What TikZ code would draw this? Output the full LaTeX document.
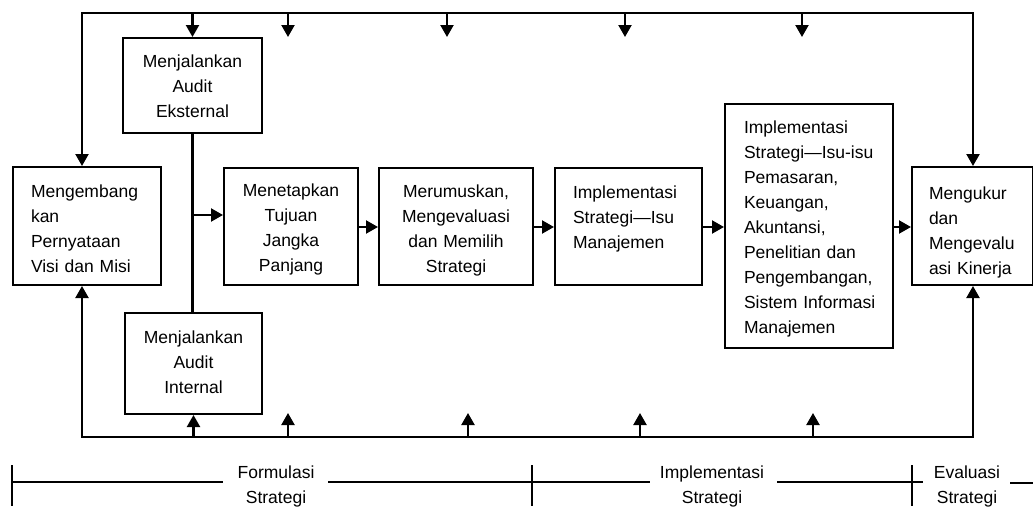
\documentclass[tikz,border=0pt]{standalone}
\usepackage{fontspec}
\setmainfont{Liberation Sans}
\usetikzlibrary{arrows.meta,calc}

\begin{document}
\begin{tikzpicture}[
  x=1pt, y=-1pt,
  txt/.style={font=\fontsize{17.5}{25}\selectfont,
    execute at begin node={\hyphenpenalty=10000 \exhyphenpenalty=10000 }},
  box/.style={txt, draw, line width=2pt, anchor=north west, inner ysep=0pt},
  lbox/.style={box, align=left, inner xsep=18pt},
  cbox/.style={box, align=center, inner xsep=8pt},
  tip/.tip={Triangle[width=13pt,length=12pt]},
  conn/.style={line width=2.2pt},
  arr/.style={conn, -tip},
  twoarr/.style={conn, tip-tip},
  phase/.style={line width=2.5pt},
  tick/.style={line width=1.4pt},
  plabel/.style={txt, anchor=base, align=center, text width=120pt, inner sep=0pt}
]
\useasboundingbox (0,0) rectangle (1033,506);

% process boxes
\node[lbox, text width=112pt, text height=30pt, text depth=88pt] (M) at (12,166)
  {Mengembang\\kan\\Pernyataan\\Visi dan Misi};
\node[cbox, text width=123pt, text height=29pt, text depth=66pt] (E) at (122,37)
  {Menjalankan\\Audit\\Eksternal};
\node[cbox, text width=121pt, text height=30pt, text depth=71pt] (N) at (124,312)
  {Menjalankan\\Audit\\Internal};
\node[cbox, text width=118pt, text height=28pt, text depth=89pt] (T) at (223,167)
  {Menetapkan\\Tujuan\\Jangka\\Panjang};
\node[cbox, text width=138pt, text height=29pt, text depth=88pt] (F) at (378,167)
  {Merumuskan,\\Mengevaluasi\\dan Memilih\\Strategi};
\node[lbox, text width=111pt, text height=30pt, text depth=87pt] (I) at (554,167)
  {Implementasi\\Strategi—Isu\\Manajemen};
\node[lbox, inner xsep=19pt, text width=130pt, text height=29pt, text depth=215pt] (B) at (724,103)
  {Implementasi\\Strategi—Isu-isu\\Pemasaran,\\Keuangan,\\Akuntansi,\\\mbox{Penelitian dan}\\Pengembangan,\\\mbox{Sistem Informasi}\\Manajemen};
\node[lbox, inner xsep=17pt, text width=87pt, text height=32pt, text depth=86pt] (K) at (911,166)
  {Mengukur\\dan\\Mengevalu\\\mbox{asi Kinerja}};

% feedback buses
\coordinate (tl) at (82,13);
\coordinate (tr) at (973,13);
\coordinate (bl) at (82,437);
\coordinate (br) at (973,437);
\draw[twoarr] (tl |- M.north) -- (tl) -- (tr) -- (tr |- K.north);
\draw[twoarr] (bl |- M.south) -- (bl) -- (br) -- (br |- K.south);
\draw[arr] (E.north |- tl) -- (E.north);
\draw[arr] (N.south |- bl) -- (N.south);
\foreach \x [count=\i] in {288,447,625,802} {
  \coordinate (dn\i) at (\x,37);
  \draw[arr] (dn\i |- tl) -- (dn\i);
}
\foreach \x [count=\i] in {288,468,640,813} {
  \coordinate (up\i) at (\x,413);
  \draw[arr] (up\i |- bl) -- (up\i);
}

% audits feed the long-term objectives
\draw[conn] (E.south) -- (E.south |- N.north);
\coordinate (j) at (E.south |- 0,215);
\draw[arr] (j) -- (j -| T.west);

% main flow
\coordinate (r) at (0,227);
\draw[arr] (T.east |- r) -- (F.west |- r);
\draw[arr] (F.east |- r) -- (I.west |- r);
\draw[arr] (I.east |- r) -- (B.west |- r);
\draw[arr] (B.east |- r) -- (K.west |- r);

% phase scale
\coordinate (s0) at (12,482);
\coordinate (s1) at (223,482);
\coordinate (s2) at (328,482);
\coordinate (s3) at (650,482);
\coordinate (s4) at (777,482);
\coordinate (s5) at (923,482);
\coordinate (s6) at (1010,483);
\coordinate (s7) at (1033,483);
\draw[phase] (s0) -- (s1);
\draw[phase] (s2) -- (s3);
\draw[phase] (s4) -- (s5);
\draw[phase] (s6) -- (s7);
\foreach \x [count=\i] in {12,532,912} {
  \coordinate (t\i) at (\x,465);
  \draw[tick] (t\i) -- ++(0,41);
}
\node[plabel] (pf) at (276,478) {Formulasi\\Strategi};
\node[plabel] (pi) at (712,478) {Implementasi\\Strategi};
\node[plabel] (pe) at (967,478) {Evaluasi\\Strategi};
\end{tikzpicture}
\end{document}
